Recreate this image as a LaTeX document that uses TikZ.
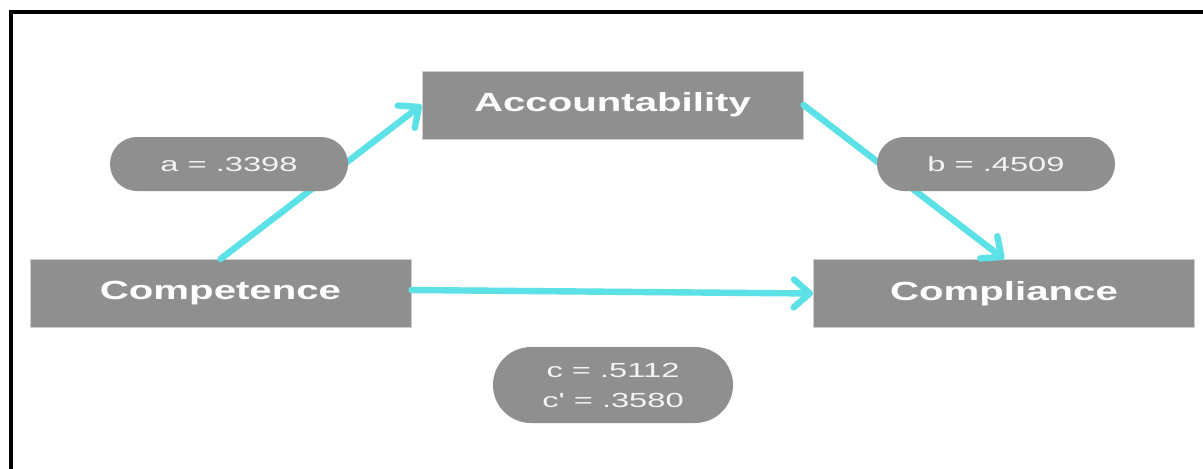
\documentclass[tikz,border=0pt]{standalone}
\usepackage{fontspec}
\usepackage{graphicx}
\newfontfamily\labelfont{Liberation Sans}
\usetikzlibrary{arrows.meta}

\definecolor{boxgray}{HTML}{8F8F8F}
\definecolor{boxedge}{HTML}{CFCFCF}
\definecolor{linkcyan}{HTML}{5CE1E6}
\definecolor{pilltext}{HTML}{F4F4F4}

\newcommand{\wide}[2][1.53]{\scalebox{#1}[1]{#2}}

\tikzset{
  varbox/.style={fill=boxgray, draw=boxedge, line width=0.75pt, inner sep=0pt,
    minimum width=285.75pt, minimum height=51pt, text=white,
    font=\labelfont\bfseries\fontsize{19.7pt}{22pt}\selectfont},
  coefpill/.style={fill=boxgray, draw=none, inner sep=0pt,
    minimum width=178.5pt, minimum height=40.5pt, rounded corners=20.25pt,
    text=pilltext, align=center,
    font=\labelfont\fontsize{15.3pt}{22.5pt}\selectfont},
  link/.style={draw=linkcyan, line width=4.8pt, line cap=round,
    -{Straight Barb[length=12pt, width=21pt, round]}},
}

\begin{document}
\begin{tikzpicture}[x=0.75pt, y=-0.75pt]
  \useasboundingbox (0,0) rectangle (1203,468);
  \fill[white] (0,0) rectangle (1203,468);

  % frame
  \draw[black, line width=2.4pt] (11,470) -- (11,12) -- (1205,12);

  % variables
  \node[varbox] (acc)   at (612.5,105)  {\wide{Accountability}};
  \node[varbox] (comp)  at (220.5,293.5) {\wide{Competence}};
  \node[varbox] (compl) at (1004,293.5)  {\wide{Compliance}};

  % paths
  \draw[link] (comp.north) -- (acc.west);
  \draw[link] (acc.east) -- (compl.north);
  \draw[link] ([yshift=2.6pt]comp.east) -- (compl.west);

  % coefficients
  \node[coefpill] (pa) at (229,164) {\wide[1.6]{a = .3398}};
  \node[coefpill] (pb) at (996,164) {\wide[1.6]{b = .4509}};
  \node[coefpill, minimum width=180pt, minimum height=57pt, rounded corners=28.5pt]
    (pc) at (613,385) {\wide[1.6]{c = .5112}\\\wide[1.6]{c' = .3580}};
\end{tikzpicture}
\end{document}
